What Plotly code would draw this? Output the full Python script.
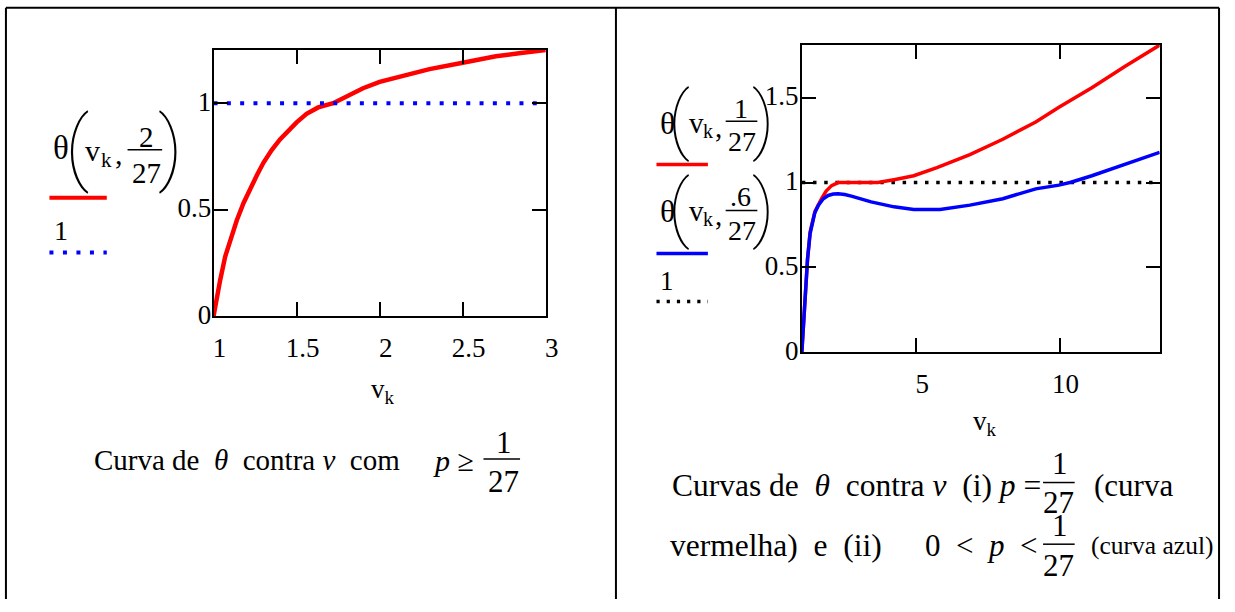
import plotly.graph_objects as go

W, H = 1235, 612
SERIF = "Liberation Serif, Times New Roman, serif"
THIN = "Roboto"
NB = "\u00a0"

# ---- left panel: theta(v_k, 2/27) ----
v_left = [1.00, 1.02, 1.04, 1.07, 1.10, 1.14, 1.18, 1.22, 1.26, 1.30, 1.35, 1.40,
          1.45, 1.50, 1.56, 1.63, 1.72, 1.80, 1.90, 2.00, 2.15, 2.30, 2.50, 2.70,
          2.85, 3.00]
theta_left = [0.00, 0.09, 0.17, 0.28, 0.36, 0.45, 0.53, 0.60, 0.66, 0.72, 0.78, 0.83,
              0.87, 0.91, 0.95, 0.98, 1.00, 1.03, 1.07, 1.10, 1.13, 1.16, 1.19, 1.22,
              1.235, 1.25]

# ---- right panel: theta(v_k, 1/27) and theta(v_k, .6/27) ----
v_red = [1.00, 1.10, 1.20, 1.29, 1.46, 1.69, 1.85, 2.04, 2.27, 2.80, 3.30, 3.65,
         4.22, 4.91, 5.72, 6.87, 8.02, 9.17, 9.98, 11.13, 12.28, 13.50]
theta_red = [0.00, 0.30, 0.55, 0.71, 0.83, 0.905, 0.95, 0.982, 1.00, 1.00, 1.00, 1.00,
             1.017, 1.04, 1.088, 1.165, 1.255, 1.357, 1.443, 1.559, 1.684, 1.81]

v_blue = [1.00, 1.10, 1.20, 1.29, 1.45, 1.58, 1.75, 1.92, 2.10, 2.27, 2.50, 2.73,
          3.42, 4.22, 4.91, 5.83, 6.87, 8.02, 9.17, 9.98, 10.40, 11.13, 12.28, 13.50]
theta_blue = [0.00, 0.30, 0.55, 0.70, 0.82, 0.867, 0.905, 0.924, 0.932, 0.934, 0.93, 0.92,
              0.886, 0.857, 0.842, 0.842, 0.867, 0.905, 0.963, 0.985, 1.002, 1.04, 1.107,
              1.178]

level = 1.0

# axis ticks
xt_left = [1, 1.5, 2, 2.5, 3]
xt_left_txt = ["1", "1.5", "2", "2.5", "3"]
yt_left = [0, 0.5, 1]
yt_left_txt = ["0", "0.5", "1"]
xt_right = [5, 10]
xt_right_txt = ["5", "10"]
yt_right = [0, 0.5, 1, 1.5]
yt_right_txt = ["0", "0.5", "1", "1.5"]

fig = go.Figure()

fig.add_trace(go.Scatter(x=v_left, y=theta_left, mode="lines",
                         line=dict(color="#ff0000", width=4.5),
                         xaxis="x", yaxis="y"))
fig.add_trace(go.Scatter(x=[v_left[0], v_left[-1]], y=[level, level], mode="lines",
                         line=dict(color="#0000ff", width=4, dash="4px,9.3px"),
                         xaxis="x", yaxis="y"))

fig.add_trace(go.Scatter(x=[v_red[0], v_red[-1]], y=[level, level], mode="lines",
                         line=dict(color="black", width=3.5, dash="3.5px,7.7px"),
                         xaxis="x2", yaxis="y2"))
fig.add_trace(go.Scatter(x=v_red, y=theta_red, mode="lines",
                         line=dict(color="#ff0000", width=3.5),
                         xaxis="x2", yaxis="y2"))
fig.add_trace(go.Scatter(x=v_blue, y=theta_blue, mode="lines",
                         line=dict(color="#0000ff", width=3.5),
                         xaxis="x2", yaxis="y2"))

axis_style = dict(showline=True, linecolor="black", linewidth=2, mirror="ticks",
                  ticks="inside", ticklen=14, tickwidth=2, tickcolor="black",
                  showgrid=False, zeroline=False, tickmode="array",
                  tickfont=dict(family=SERIF, size=27, color="black"))

fig.update_layout(
    width=W, height=H, autosize=False,
    margin=dict(l=0, r=0, t=0, b=0),
    paper_bgcolor="white", plot_bgcolor="white",
    showlegend=False,
    xaxis=dict(axis_style, domain=[215 / W, 551 / W], range=[1, 3], anchor="y",
               tickvals=xt_left, ticktext=xt_left_txt, ticklabelshift=6,
               ticklabelstandoff=6),
    yaxis=dict(axis_style, domain=[1 - 323 / H, 1 - 51 / H], range=[0, 1.25], anchor="x",
               tickvals=yt_left, ticktext=yt_left_txt, ticklabelshift=-2,
               ticklabelstandoff=-5),
    xaxis2=dict(axis_style, domain=[810 / W, 1172 / W], range=[1, 13.5], anchor="y2",
                tickvals=xt_right, ticktext=xt_right_txt, ticklabelshift=6,
                ticklabelstandoff=6),
    yaxis2=dict(axis_style, domain=[1 - 360 / H, 1 - 46 / H], range=[0, 1.81], anchor="x2",
                tickvals=yt_right, ticktext=yt_right_txt, ticklabelshift=-2,
                ticklabelstandoff=-4),
)


def px(x):
    return x / W


def py(y):
    return 1 - y / H


def text(s, x, y, size, xanchor="center", yanchor="middle", family=SERIF, weight=None):
    font = dict(family=family, size=size, color="black")
    if weight is not None:
        font["weight"] = weight
    fig.add_annotation(text=s, x=px(x), y=py(y), xref="paper", yref="paper",
                       showarrow=False, xanchor=xanchor, yanchor=yanchor,
                       font=font, borderpad=0)


def hline(x0, x1, y, color="black", width=1.5, dash=None):
    line = dict(color=color, width=width)
    if dash:
        line["dash"] = dash
    fig.add_shape(type="line", xref="paper", yref="paper",
                  x0=px(x0), x1=px(x1), y0=py(y), y1=py(y), line=line)


def vline(x, y0, y1, width=2):
    fig.add_shape(type="line", xref="paper", yref="paper",
                  x0=px(x), x1=px(x), y0=py(y0), y1=py(y1),
                  line=dict(color="black", width=width))


# table frame
hline(5, 1232, 8, width=2)
vline(5, 8, 612)
vline(622, 8, 612)
vline(1232, 8, 612)

# axis titles
text("v<sub>k</sub>", 386, 399, 27)
text("v<sub>k</sub>", 995, 432, 27)

# left legend: θ(v_k, 2/27)
text("θ", 61, 151, 33)
text("(", 77, 150, 82, family=THIN, weight=100)
text("v", 93, 154, 30)
text("k", 107, 163, 21)
text(",", 119, 157, 30)
text("2", 147, 140, 29)
hline(128, 163, 153)
text("27", 147, 177, 29)
text(")", 171, 150, 82, family=THIN, weight=100)
hline(49, 107, 202, color="#ff0000", width=4)
text("1", 61, 235, 28)
hline(49, 107, 258, color="#0000ff", width=4, dash="4px,9.5px")

# right legend: θ(v_k, 1/27), θ(v_k, .6/27), 1
for cy, num, ny, by, dy, ly, col in [(126, "1", 111, 124, 145, 168, "#ff0000"),
                                      (216, ".6", 201, 215, 235, 259, "#0000ff")]:
    text("θ", 674, cy, 32)
    text("(", 686, cy - 4, 74, family=THIN, weight=100)
    text("v", 703, cy, 29)
    text("k", 715, cy + 8, 20)
    text(",", 726, cy + 4, 29)
    text(num, 748, ny, 28)
    hline(733, 765, by)
    text("27", 749, dy, 28)
    text(")", 771, cy - 4, 74, family=THIN, weight=100)
    hline(663, 715, ly, color=col, width=3.5)
text("1", 674, 287, 27)
hline(663, 715, 308, color="black", width=3.5, dash="3.2px,7px")

# caption, left cell
MID1 = 470
text(f"Curva de{NB} <i>θ</i>{NB} contra <i>v</i>{NB} com", 93, MID1, 29, xanchor="left")
text("<i>p</i> ≥", 479, MID1, 30, xanchor="right")
text("1", 509, 452, 31)
hline(488, 525, 469)
text("27", 508, 492, 31)

# caption, right cell
MID2 = 496
text(f"Curvas de{NB} <i>θ</i>{NB} contra <i>v</i>{NB} (i) <i>p</i> =", 1053, MID2, 31.5,
     xanchor="right")
text("1", 1071, 474, 31)
hline(1054, 1086, 493)
text("27", 1070, 513, 31)
text("(curva", 1105, MID2, 31, xanchor="left")

MID3 = 557
text(f"vermelha){NB} e{NB} (ii)", 676, MID3, 31.5, xanchor="left")
text(f"0{NB} &lt;{NB} <i>p</i>{NB} &lt;", 1049, MID3, 31, xanchor="right")
text("1", 1071, 537, 31)
hline(1054, 1086, 556)
text("27", 1070, 578, 31)
text("(curva azul)", 1101, MID3, 25.5, xanchor="left")

fig.write_html("out.html")
